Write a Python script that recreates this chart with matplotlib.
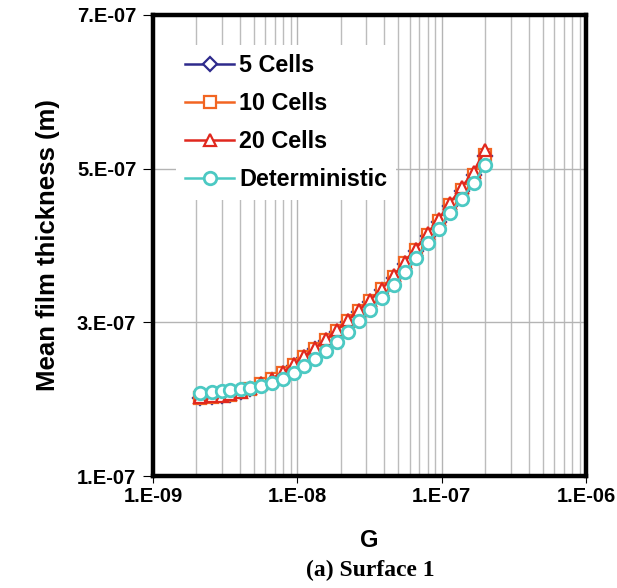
import numpy as np
import matplotlib.pyplot as plt
from matplotlib.ticker import LogLocator, NullFormatter

plt.rcParams['font.family'] = ['Liberation Sans', 'DejaVu Sans']

# data (G values and thickness in units of 1e-7 m)
G = [2.12e-9, 2.55e-9, 2.99e-9, 3.42e-9, 4.05e-9, 4.70e-9, 5.57e-9, 6.64e-9,
     7.92e-9, 9.48e-9, 1.11e-8, 1.33e-8, 1.58e-8, 1.88e-8, 2.24e-8, 2.67e-8,
     3.19e-8, 3.86e-8, 4.68e-8, 5.54e-8, 6.64e-8, 8.0e-8, 9.59e-8, 1.14e-7,
     1.38e-7, 1.66e-7, 2.0e-7]

deterministic = [2.08, 2.10, 2.11, 2.12, 2.13, 2.15, 2.17, 2.21, 2.27, 2.34,
                 2.43, 2.53, 2.63, 2.75, 2.88, 3.02, 3.16, 3.32, 3.48, 3.65,
                 3.84, 4.03, 4.22, 4.42, 4.61, 4.81, 5.04]
cells_20 = [2.03, 2.04, 2.05, 2.07, 2.10, 2.15, 2.21, 2.27, 2.35, 2.46,
            2.56, 2.67, 2.78, 2.90, 3.03, 3.16, 3.29, 3.44, 3.61, 3.79,
            3.96, 4.16, 4.35, 4.55, 4.76, 4.96, 5.24]
cells_10 = [2.02, 2.03, 2.04, 2.06, 2.09, 2.14, 2.20, 2.26, 2.34, 2.45,
            2.55, 2.66, 2.77, 2.89, 3.02, 3.15, 3.28, 3.43, 3.59, 3.77,
            3.94, 4.13, 4.32, 4.52, 4.72, 4.92, 5.18]
cells_5 = [2.02, 2.03, 2.04, 2.06, 2.09, 2.13, 2.19, 2.25, 2.33, 2.44,
           2.54, 2.65, 2.76, 2.88, 3.01, 3.14, 3.27, 3.42, 3.58, 3.76,
           3.93, 4.12, 4.31, 4.51, 4.71, 4.91, 5.16]

y_ticks = [1e-7, 3e-7, 5e-7, 7e-7]
y_tick_labels = ['1.E-07', '3.E-07', '5.E-07', '7.E-07']
x_ticks = [1e-9, 1e-8, 1e-7, 1e-6]
x_tick_labels = ['1.E-09', '1.E-08', '1.E-07', '1.E-06']

G = np.array(G)
scale = 1e-7

fig = plt.figure(figsize=(6.17, 5.88), dpi=100)
ax = fig.add_axes([0.248, 0.190, 0.702, 0.785])

ms = 9
mew = 1.6
ax.plot(G, np.array(cells_5) * scale, color='#2e2a8c', marker='D', ms=ms * 0.8,
        mfc='white', mew=mew, lw=1.8, label='5 Cells', zorder=3)
ax.plot(G, np.array(cells_10) * scale, color='#f26522', marker='s', ms=ms,
        mfc='white', mew=mew, lw=1.8, label='10 Cells', zorder=4)
ax.plot(G, np.array(cells_20) * scale, color='#e0281e', marker='^', ms=ms,
        mfc='white', mew=mew, lw=1.8, label='20 Cells', zorder=5)
ax.plot(G, np.array(deterministic) * scale, color='#4cc9c3', marker='o', ms=ms,
        mfc='white', mew=2.0, lw=1.8, label='Deterministic', zorder=6)

ax.set_xscale('log')
ax.set_xlim(1e-9, 1e-6)
ax.set_ylim(1e-7, 7e-7)
ax.set_xticks(x_ticks)
ax.set_xticklabels(x_tick_labels)
ax.xaxis.set_minor_locator(LogLocator(base=10, subs=np.arange(2, 10)))
ax.xaxis.set_minor_formatter(NullFormatter())
ax.set_yticks(y_ticks)
ax.set_yticklabels(y_tick_labels)

ax.grid(True, which='major', axis='both', color='#b4b4b4', lw=1.0, zorder=0)
ax.grid(True, which='minor', axis='x', color='#bcbcbc', lw=1.0, zorder=0)
ax.set_axisbelow(True)

for s in ax.spines.values():
    s.set_linewidth(3.2)
    s.set_zorder(10)

ax.tick_params(axis='y', which='major', direction='out', length=7, width=0.8,
               pad=5, labelsize=14.5)
ax.tick_params(axis='x', which='major', direction='out', length=5, width=0.8,
               pad=3, labelsize=14.5)
ax.tick_params(axis='x', which='minor', length=0)
for lab in ax.get_xticklabels() + ax.get_yticklabels():
    lab.set_fontweight('bold')

ax.set_xlabel('G', fontsize=17, fontweight='bold', labelpad=16)
ax.set_ylabel('Mean film thickness (m)', fontsize=18.5, fontweight='bold', labelpad=12)

leg = ax.legend(loc='upper left', bbox_to_anchor=(0.053, 0.935), frameon=True,
                fancybox=False, borderpad=0.4, borderaxespad=0, handlelength=2.1,
                handletextpad=0.2, labelspacing=0.64,
                prop={'weight': 'bold', 'size': 16.8})
leg.get_frame().set_facecolor('white')
leg.get_frame().set_edgecolor('none')
leg.get_frame().set_alpha(1)

fig.text(0.6, 0.03, '(a) Surface 1', ha='center', va='center', fontsize=17,
         fontweight='bold', family=['Liberation Serif', 'DejaVu Serif'])

fig.savefig('out.png', dpi=100)
